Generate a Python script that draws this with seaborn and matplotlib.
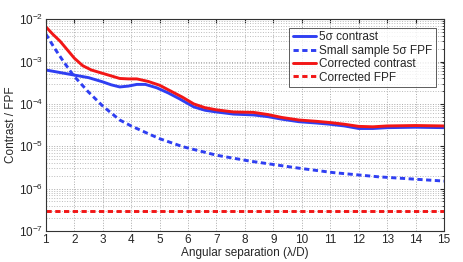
import matplotlib
matplotlib.use("Agg")
import matplotlib.pyplot as plt
import seaborn as sns
import numpy as np
import pandas as pd
from matplotlib.ticker import LogLocator, NullFormatter

# Values, as log10 of contrast / FPF
sep_blue = [1.0, 1.5, 2.0, 2.5, 3.0, 3.3, 3.6, 3.9, 4.2, 4.5, 4.9, 5.3, 5.7, 6.2, 6.6, 7.0, 7.6, 8.3, 8.8, 9.3, 9.9, 10.5, 11.0, 11.5, 12.0, 12.5, 13.0, 14.0, 15.0]
log_blue = [-3.20, -3.26, -3.32, -3.38, -3.48, -3.55, -3.60, -3.58, -3.54, -3.54, -3.62, -3.74, -3.88, -4.07, -4.15, -4.19, -4.24, -4.26, -4.30, -4.36, -4.42, -4.45, -4.48, -4.52, -4.58, -4.58, -4.56, -4.55, -4.56]

sep_red = [1.0, 1.25, 1.5, 1.75, 2.0, 2.3, 2.6, 3.0, 3.3, 3.6, 3.9, 4.2, 4.6, 5.0, 5.4, 5.8, 6.2, 6.6, 7.0, 7.6, 8.3, 8.8, 9.3, 9.9, 10.5, 11.0, 11.5, 12.0, 12.5, 13.0, 14.0, 15.0]
log_red = [-2.18, -2.36, -2.52, -2.72, -2.92, -3.10, -3.20, -3.28, -3.34, -3.40, -3.41, -3.41, -3.47, -3.56, -3.70, -3.84, -4.00, -4.09, -4.14, -4.19, -4.20, -4.25, -4.32, -4.38, -4.41, -4.44, -4.48, -4.53, -4.54, -4.52, -4.51, -4.52]

sep_fpf = [1.0, 1.3, 1.6, 1.96, 2.5, 3.0, 3.6, 4.0, 4.66, 5.0, 5.82, 7.0, 8.18, 9.94, 11.1, 12.7, 15.0]
log_fpf = [-2.35, -2.68, -2.98, -3.32, -3.72, -4.05, -4.38, -4.52, -4.72, -4.82, -5.01, -5.21, -5.35, -5.52, -5.62, -5.72, -5.82]

sep_cfpf = [1.0, 15.0]
cfpf = [2.9e-7, 2.9e-7]

names = ["5σ contrast", "Small sample 5σ FPF", "Corrected contrast", "Corrected FPF"]

sns.set_style("white")
plt.rcParams["font.family"] = ["Liberation Sans", "DejaVu Sans"]
plt.rcParams["font.size"] = 8.5

fig, ax = plt.subplots(figsize=(4.63, 2.62), dpi=100)
fig.subplots_adjust(left=0.099, right=0.959, top=0.927, bottom=0.118)

df = pd.concat([
    pd.DataFrame({"sep": sep_blue, "value": 10 ** np.array(log_blue), "series": names[0]}),
    pd.DataFrame({"sep": sep_fpf, "value": 10 ** np.array(log_fpf), "series": names[1]}),
    pd.DataFrame({"sep": sep_red, "value": 10 ** np.array(log_red), "series": names[2]}),
    pd.DataFrame({"sep": sep_cfpf, "value": cfpf, "series": names[3]}),
], ignore_index=True)

blue, red = "#2f3ff2", "#f21616"
palette = dict(zip(names, [blue, blue, red, red]))
dashes = dict(zip(names, ["", (1.8, 1.2), "", (1.8, 1.2)]))
sns.lineplot(data=df, x="sep", y="value", hue="series", style="series", hue_order=names,
             style_order=names, palette=palette, dashes=dashes, linewidth=2.1, ax=ax)

ax.set_yscale("log")
ax.set_xlim(1, 15)
ax.set_ylim(1e-7, 1e-2)
ax.set_xticks(range(1, 16))
ax.yaxis.set_major_locator(LogLocator(base=10, numticks=10))
ax.yaxis.set_minor_locator(LogLocator(base=10, subs=np.arange(2, 10), numticks=10))
ax.yaxis.set_minor_formatter(NullFormatter())
ax.grid(True, which="major", axis="both", linestyle=":", color="#aaaaaa", linewidth=0.7)
ax.grid(True, which="minor", axis="y", linestyle=":", color="#bbbbbb", linewidth=0.7)
ax.tick_params(axis="both", which="both", direction="in", length=3, labelsize=8.5,
               top=True, right=True, pad=2)
ax.tick_params(axis="y", which="minor", length=1.5)
for s in ax.spines.values():
    s.set_color("#333333")
    s.set_linewidth(0.8)

ax.set_xlabel("Angular separation (λ/D)", labelpad=1)
ax.set_ylabel("Contrast / FPF", labelpad=1)

leg = ax.legend(loc="upper right", frameon=True, fancybox=False, edgecolor="#333333",
                handlelength=2.0, handletextpad=0.25, borderpad=0.3, labelspacing=0.12,
                fontsize=8.5, bbox_to_anchor=(0.995, 0.987))
leg.get_frame().set_linewidth(0.7)

fig.savefig("out.png", dpi=100)
